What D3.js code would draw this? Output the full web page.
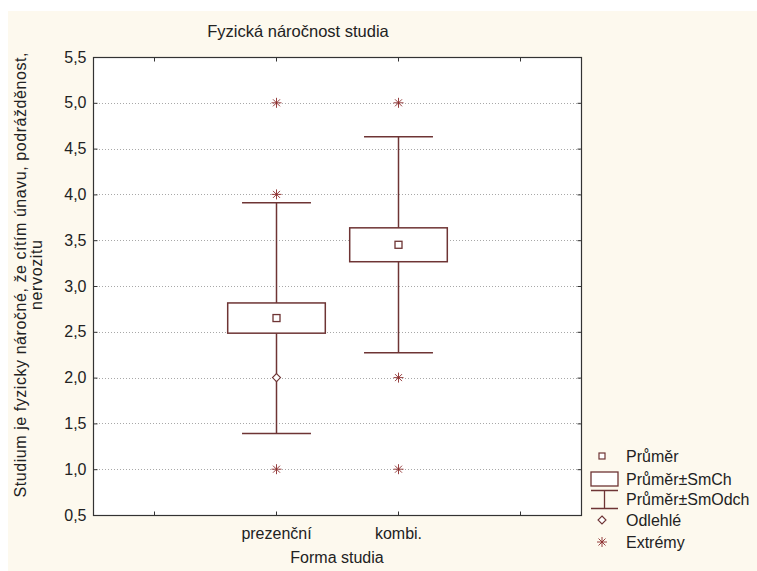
<!DOCTYPE html>
<html>
<head>
<meta charset="utf-8">
<script src="https://cdn.jsdelivr.net/npm/d3@7"></script>
<style>
  html, body { margin: 0; padding: 0; background: #ffffff; }
  svg { display: block; font-family: "Liberation Sans", Arial, sans-serif; }
</style>
</head>
<body>
<svg id="chart" width="757" height="571"></svg>
<script>
// ---- data ----
const categories = ["prezenční", "kombi."];
const means = [2.65, 3.45];
const stdErrors = [0.165, 0.185];
const stdDevs = [1.26, 1.18];
const outliers = [[2.0], []];
const extremes = [[5.0, 4.0, 1.0], [5.0, 2.0, 1.0]];
const yTicks = [0.5, 1.0, 1.5, 2.0, 2.5, 3.0, 3.5, 4.0, 4.5, 5.0, 5.5];
const xSlots = ["", "prezenční", "kombi.", " "];
const legendLabels = ["Průměr", "Průměr±SmCh", "Průměr±SmOdch", "Odlehlé", "Extrémy"];
const title = "Fyzická náročnost studia";
const xTitle = "Forma studia";
const yTitleLines = ["Studium je fyzicky náročné, že cítím únavu, podrážděnost,", "nervozitu"];

// ---- layout ----
const svg = d3.select("#chart");
const plot = { left: 93, right: 581, top: 57, bottom: 515 };
const markColor = "#6e3434";
const extColor = "#8a2a2a";
const textColor = "#222";

svg.append("rect").attr("x", 8).attr("y", 11).attr("width", 749).attr("height", 560).attr("fill", "#fdf9ee");

const x = d3.scaleBand().domain(xSlots).range([plot.left, plot.right]);
const y = d3.scaleLinear().domain([0.5, 5.5]).range([plot.bottom, plot.top]);
const fmt = v => d3.format(".1f")(v).replace(".", ",");

svg.append("rect").attr("x", plot.left).attr("y", plot.top)
  .attr("width", plot.right - plot.left).attr("height", plot.bottom - plot.top)
  .attr("fill", "#ffffff");

// grid
svg.append("g").selectAll("line").data(yTicks.slice(1, -1)).join("line")
  .attr("x1", plot.left).attr("x2", plot.right)
  .attr("y1", d => Math.round(y(d)) + 0.5).attr("y2", d => Math.round(y(d)) + 0.5)
  .attr("stroke", "#a8a8a8").attr("stroke-width", 1).attr("stroke-dasharray", "1,2");

// axes
const tickPos = d => x(d) + x.bandwidth() / 2;
const gL = svg.append("g").attr("transform", `translate(${plot.left + 0.5},0)`)
  .call(d3.axisLeft(y).tickValues(yTicks).tickFormat(fmt).tickSize(-4).tickPadding(7));
const gR = svg.append("g").attr("transform", `translate(${plot.right + 0.5},0)`)
  .call(d3.axisRight(y).tickValues(yTicks).tickFormat("").tickSize(-4));
const xb = d3.scaleOrdinal().domain(xSlots).range(xSlots.map(tickPos));
const gB = svg.append("g").attr("transform", `translate(0,${plot.bottom + 0.5})`)
  .call(d3.axisBottom(xb).tickValues(xSlots).tickFormat(d => d.trim()).tickSize(-4).tickPadding(12));
const gT = svg.append("g").attr("transform", `translate(0,${plot.top + 0.5})`)
  .call(d3.axisTop(xb).tickValues(xSlots).tickFormat("").tickSize(-4));
[gL, gR, gB, gT].forEach(g => {
  g.selectAll(".domain").remove();
  g.selectAll("line").attr("stroke", "#333");
  g.selectAll("text").attr("fill", textColor).style("font-size", "16px").style("font-family", "Liberation Sans, Arial, sans-serif");
});
svg.append("rect").attr("x", plot.left + 0.5).attr("y", plot.top + 0.5)
  .attr("width", plot.right - plot.left).attr("height", plot.bottom - plot.top)
  .attr("fill", "none").attr("stroke", "#333").attr("stroke-width", 1.2);

// boxes
const boxW = x.bandwidth() * 0.8;
const capW = x.bandwidth() * 0.565;
const g = svg.append("g");
categories.forEach((c, i) => {
  const cx = Math.round(tickPos(c)) + 0.5;
  const m = means[i], se = stdErrors[i], sd = stdDevs[i];
  g.append("line").attr("x1", cx).attr("x2", cx).attr("y1", y(m + sd)).attr("y2", y(m - sd))
    .attr("stroke", markColor).attr("stroke-width", 1.5);
  [m + sd, m - sd].forEach(v => {
    g.append("line").attr("x1", cx - capW / 2).attr("x2", cx + capW / 2).attr("y1", y(v)).attr("y2", y(v))
      .attr("stroke", markColor).attr("stroke-width", 1.5);
  });
  g.append("rect").attr("x", cx - boxW / 2).attr("y", y(m + se))
    .attr("width", boxW).attr("height", y(m - se) - y(m + se))
    .attr("fill", "#ffffff").attr("stroke", markColor).attr("stroke-width", 1.5);
  g.append("rect").attr("x", cx - 3.5).attr("y", y(m) - 3.5).attr("width", 7).attr("height", 7)
    .attr("fill", "#fff").attr("stroke", markColor).attr("stroke-width", 1.3);
  outliers[i].forEach(v => drawDiamond(g, cx, y(v)));
  extremes[i].forEach(v => drawStar(g, cx, y(v)));
});

function drawDiamond(sel, cx, cy) {
  sel.append("path").attr("d", `M${cx},${cy - 4}L${cx + 4},${cy}L${cx},${cy + 4}L${cx - 4},${cy}Z`)
    .attr("fill", "#fff").attr("stroke", markColor).attr("stroke-width", 1.1);
}
function drawStar(sel, cx, cy) {
  const r = 5;
  const p = `M${cx - r},${cy}L${cx + r},${cy}M${cx},${cy - r}L${cx},${cy + r}` +
            `M${cx - r * 0.7},${cy - r * 0.7}L${cx + r * 0.7},${cy + r * 0.7}` +
            `M${cx - r * 0.7},${cy + r * 0.7}L${cx + r * 0.7},${cy - r * 0.7}`;
  sel.append("path").attr("d", p).attr("stroke", extColor).attr("stroke-width", 0.9).attr("fill", "none");
}

// titles
svg.append("text").attr("x", 298).attr("y", 37).attr("text-anchor", "middle")
  .attr("fill", textColor).style("font-size", "16.5px").text(title);
svg.append("text").attr("x", (plot.left + plot.right) / 2).attr("y", 563).attr("text-anchor", "middle")
  .attr("fill", textColor).style("font-size", "16px").text(xTitle);
const yt = svg.append("text").attr("transform", `translate(0,275) rotate(-90)`)
  .attr("text-anchor", "middle").attr("fill", textColor).style("font-size", "16px");
yTitleLines.forEach((t, k) => {
  const ts = yt.append("tspan").attr("x", 0).attr("y", 26 + k * 16).text(t);
  if (k === 0) ts.attr("textLength", 445).attr("lengthAdjust", "spacing");
  else ts.attr("textLength", 70).attr("lengthAdjust", "spacing");
});

// legend
const lg = svg.append("g");
const lx = 602, ly = [456, 479, 499, 520, 542];
legendLabels.forEach((t, k) => {
  lg.append("text").attr("x", 626).attr("y", ly[k]).attr("dy", "0.35em")
    .attr("fill", textColor).style("font-size", "16px").text(t);
});
lg.append("rect").attr("x", lx - 3).attr("y", ly[0] - 3).attr("width", 6).attr("height", 6)
  .attr("fill", "#fff").attr("stroke", markColor).attr("stroke-width", 1.2);
lg.append("rect").attr("x", 591).attr("y", 472).attr("width", 27).attr("height", 14)
  .attr("fill", "#fff").attr("stroke", markColor).attr("stroke-width", 1.3);
lg.append("path").attr("d", `M591,490.5H618M604.5,490.5V508.5M591,508.5H618`)
  .attr("stroke", markColor).attr("stroke-width", 1.3).attr("fill", "none");
drawDiamond(lg, lx, ly[3]);
drawStar(lg, lx, ly[4]);
</script>
</body>
</html>
